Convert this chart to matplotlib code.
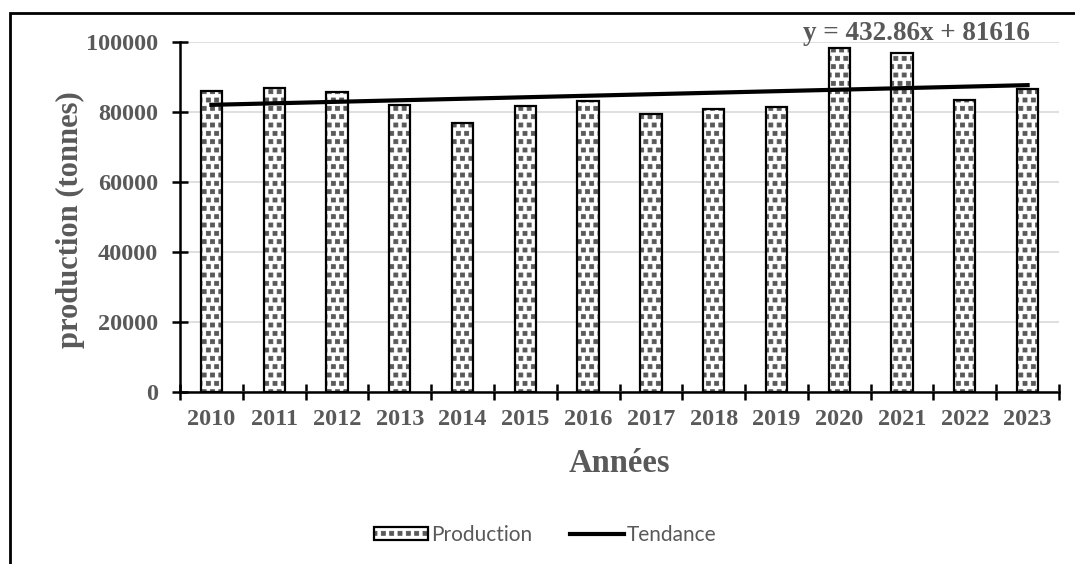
import matplotlib
matplotlib.use("Agg")
import matplotlib.pyplot as plt
import matplotlib.hatch as mhatch
from matplotlib.path import Path
from matplotlib.patches import Rectangle, Patch
from matplotlib.lines import Line2D
from matplotlib.legend_handler import HandlerTuple
import numpy as np

years = ["2010", "2011", "2012", "2013", "2014", "2015", "2016",
         "2017", "2018", "2019", "2020", "2021", "2022", "2023"]
production = [86000, 87000, 85600, 81900, 77000, 81700, 83100,
              79400, 80800, 81300, 98400, 96900, 83300, 86700]
trend_slope = 432.86
trend_intercept = 81616

GRAY = "#595959"
SERIF = "Liberation Serif"


# Small filled squares used in place of the filled-dot hatch ('.')
class SmallFilledSquares(mhatch.Shapes):
    size = 0.24
    filled = True

    def __init__(self, hatch, density):
        self.num_rows = hatch.count('.') * density
        self.shape_vertices = np.array([[-1, -1], [1, -1], [1, 1], [-1, 1], [-1, -1]], float)
        self.shape_codes = np.array([Path.MOVETO, Path.LINETO, Path.LINETO,
                                     Path.LINETO, Path.CLOSEPOLY], dtype=Path.code_type)
        super().__init__(hatch, density)


mhatch._hatch_types = [SmallFilledSquares if t is mhatch.SmallFilledCircles else t
                       for t in mhatch._hatch_types]
plt.rcParams["hatch.linewidth"] = 0.6

fig = plt.figure(figsize=(10.75, 5.64), dpi=100)
W, H = 1075, 564
ax = fig.add_axes([180 / W, 1 - 392 / H, (1059 - 180) / W, (392 - 42) / H])

x = np.arange(len(years))
bw = 0.34
ax.bar(x, production, width=bw, color="white", edgecolor=GRAY,
       hatch="..", linewidth=0, zorder=2)
ax.bar(x, production, width=bw, fill=False, edgecolor="black",
       linewidth=1.6, zorder=3)

trend = trend_slope * (x + 1) + trend_intercept
ax.plot(x, trend, color="black", linewidth=3, zorder=4)

ax.set_xlim(-0.5, len(years) - 0.5)
ax.set_ylim(0, 100000)
ax.set_yticks(np.arange(0, 100001, 20000))
ax.set_yticklabels([str(v) for v in range(0, 100001, 20000)])
ax.yaxis.grid(True, color="#d9d9d9", linewidth=1.2, zorder=0)
ax.set_axisbelow(True)

ax.set_xticks(x)
ax.set_xticklabels(years)
ax.set_xticks(np.arange(-0.5, len(years)), minor=True)
ax.tick_params(axis="x", which="major", length=0, pad=12)
ax.tick_params(axis="x", which="minor", direction="inout", length=12, width=1.8, color="black")
ax.tick_params(axis="y", direction="inout", length=12, width=1.8, color="black", pad=10)

for lab in ax.get_xticklabels() + ax.get_yticklabels():
    lab.set_fontfamily(SERIF)
    lab.set_fontweight("bold")
    lab.set_fontsize(17.5)
    lab.set_color(GRAY)

for s in ["top", "right"]:
    ax.spines[s].set_visible(False)
ax.spines["left"].set_linewidth(1.8)
ax.spines["bottom"].set_linewidth(1.8)

fig.text(70 / W, 1 - 220 / H, "production (tonnes)", rotation=90,
         ha="center", va="center", fontfamily=SERIF, fontweight="bold",
         fontsize=22, color=GRAY)
fig.text(619 / W, 1 - 463 / H, "Années", ha="center", va="center",
         fontfamily=SERIF, fontweight="bold", fontsize=23.5, color=GRAY)
fig.text(916 / W, 1 - 33 / H, f"y = {trend_slope}x + {trend_intercept}",
         ha="center", va="center", fontfamily=SERIF, fontweight="bold",
         fontsize=19.5, color=GRAY)

h_fill = Patch(facecolor="white", edgecolor=GRAY, hatch="..", linewidth=0)
h_edge = Patch(fill=False, edgecolor="black", linewidth=1.6)
h_line = Line2D([], [], color="black", linewidth=3)
leg = fig.legend([(h_fill, h_edge), h_line], ["Production", "Tendance"],
                 handler_map={tuple: HandlerTuple(ndivide=1, pad=0)},
                 loc="center", bbox_to_anchor=(545 / W, 1 - 535 / H),
                 ncol=2, frameon=False, handlelength=2.6, handleheight=0.6,
                 columnspacing=1.8, handletextpad=0.15,
                 prop={"family": "Lato", "size": 15})
for t in leg.get_texts():
    t.set_color(GRAY)

# outer frame of the chart area
fig.add_artist(Rectangle((10 / W, -0.1), 1.2, 1 - 13 / H + 0.1,
                         transform=fig.transFigure, fill=False,
                         edgecolor="black", linewidth=2))

fig.savefig("out.png", dpi=100)
